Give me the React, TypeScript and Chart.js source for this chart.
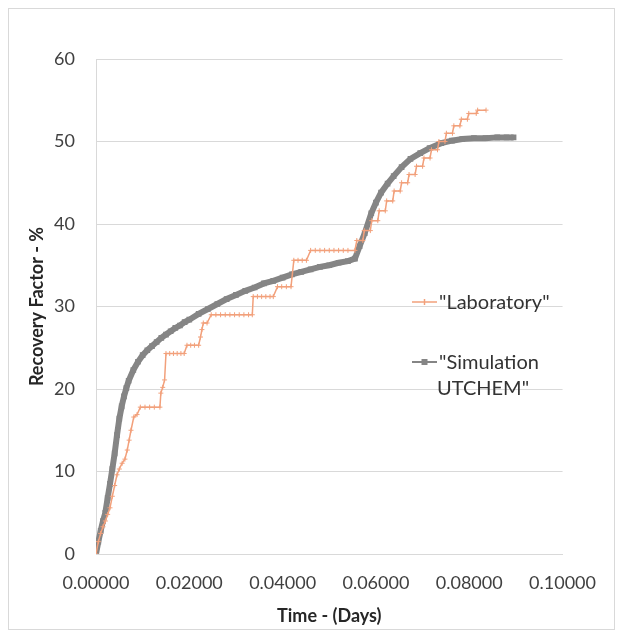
import React, { useEffect, useRef } from "react";
import { Chart, registerables } from "chart.js";

Chart.register(...registerables);

// ---- Data ----
const seriesNames = ['"Laboratory"', '"Simulation UTCHEM"'];
const legendLines = [['"Laboratory"'], ['"Simulation', 'UTCHEM"']];

const labTime = [
  0, 0.0005, 0.001, 0.0015, 0.002, 0.0025, 0.003, 0.0035, 0.004, 0.0045, 0.005,
  0.0056, 0.0062, 0.0067, 0.0071, 0.0075, 0.0081, 0.0088, 0.0095,
  0.0105, 0.0115, 0.0125, 0.0137,
  0.0139, 0.0143, 0.0147, 0.015,
  0.0158, 0.0166, 0.0174, 0.0182, 0.0189,
  0.0195, 0.0203, 0.0211, 0.022,
  0.0224, 0.0227, 0.023, 0.0238,
  0.0247, 0.0257, 0.0267, 0.0277, 0.0287, 0.0297, 0.0307, 0.0317, 0.0327, 0.0335,
  0.0337, 0.0346, 0.0355, 0.0364, 0.0373, 0.038,
  0.0389, 0.0398, 0.0408, 0.0418,
  0.0424, 0.0433, 0.0442, 0.0451,
  0.046, 0.047, 0.048, 0.049, 0.05, 0.051, 0.052, 0.053, 0.054, 0.0555,
  0.0559, 0.0572, 0.0575, 0.0588, 0.0591, 0.0604, 0.0607, 0.062, 0.0623, 0.0636,
  0.0639, 0.0652, 0.0655, 0.0668, 0.0671, 0.0684, 0.0687, 0.07, 0.0703, 0.0716,
  0.0719, 0.0732, 0.0735, 0.0748, 0.0751, 0.0764, 0.0767, 0.078, 0.0783, 0.0796,
  0.0799, 0.0815, 0.0818, 0.0836,
];
const labRecovery = [
  0, 1.5, 2.5, 3.3, 4.0, 4.8, 5.6, 7.0, 8.3, 9.6, 10.3,
  11, 11.5, 12.6, 13.8, 15, 16.6, 16.9, 17.8,
  17.8, 17.8, 17.8, 17.8,
  19.5, 20.2, 21.1, 24.3,
  24.3, 24.3, 24.3, 24.3, 24.3,
  25.3, 25.3, 25.3, 25.3,
  26.3, 27.2, 28, 28,
  29, 29, 29, 29, 29, 29, 29, 29, 29, 29,
  31.2, 31.2, 31.2, 31.2, 31.2, 31.2,
  32.4, 32.4, 32.4, 32.4,
  35.6, 35.6, 35.6, 35.6,
  36.8, 36.8, 36.8, 36.8, 36.8, 36.8, 36.8, 36.8, 36.8, 36.8,
  38, 38, 39.2, 39.2, 40.4, 40.4, 41.6, 41.6, 42.8, 42.8,
  44, 44, 45, 45, 46, 46, 47, 47, 48, 48,
  49, 49, 50, 50, 51, 51, 51.9, 51.9, 52.7, 52.7,
  53.4, 53.4, 53.8, 53.8,
];

const simTime = [
  0, 0.0005, 0.001, 0.0015, 0.002, 0.0025, 0.003, 0.0035, 0.004, 0.0045, 0.005,
  0.0055, 0.006, 0.0065, 0.007,
  0.008, 0.009, 0.010, 0.011, 0.012, 0.013, 0.014, 0.015, 0.016, 0.017, 0.018, 0.019, 0.020,
  0.022, 0.024, 0.026, 0.028, 0.030, 0.032, 0.034, 0.036, 0.038, 0.040, 0.042, 0.044,
  0.046, 0.048, 0.050, 0.052, 0.054,
  0.0555, 0.0565, 0.0576, 0.059, 0.06, 0.0611, 0.0625, 0.0638, 0.0655, 0.0674,
  0.0695, 0.0715, 0.074, 0.0763, 0.0785, 0.081, 0.0835, 0.086, 0.088, 0.0895,
];
const simRecovery = [
  0, 1.5, 2.8, 4, 5, 6.8, 8.5, 10.3, 12.2, 14.4, 16.4,
  17.9, 19.1, 20.1, 21,
  22.3, 23.3, 24.1, 24.7, 25.2, 25.7, 26.2, 26.6, 27, 27.4, 27.7, 28.1, 28.4,
  29.1, 29.7, 30.3, 30.9, 31.4, 31.9, 32.3, 32.8, 33.1, 33.5, 33.9, 34.2,
  34.5, 34.8, 35, 35.3, 35.5,
  35.8, 37.3, 38.9, 41.3, 42.6, 43.8, 44.9, 45.8, 46.9, 47.9,
  48.6, 49.2, 49.8, 50.1, 50.3, 50.4, 50.4, 50.5, 50.5, 50.5,
];

const xTickValues = [0, 0.02, 0.04, 0.06, 0.08, 0.1];
const yTickValues = [0, 10, 20, 30, 40, 50, 60];

const labColor = "#F2A07B";
const simColor = "#858585";
const FONT = "Lato, 'Open Sans', sans-serif";

const insideLegend = {
  id: "insideLegend",
  afterDraw(chart: any) {
    const ctx = chart.ctx as CanvasRenderingContext2D;
    ctx.save();
    const x0 = 403, x1 = 428, tx = 430;
    // Laboratory
    ctx.strokeStyle = labColor;
    ctx.lineWidth = 1.5;
    ctx.beginPath();
    ctx.moveTo(x0, 293);
    ctx.lineTo(x1, 293);
    ctx.stroke();
    ctx.beginPath();
    ctx.moveTo(415.5, 290);
    ctx.lineTo(415.5, 296);
    ctx.stroke();
    // Simulation
    ctx.strokeStyle = simColor;
    ctx.lineWidth = 2;
    ctx.beginPath();
    ctx.moveTo(x0, 353);
    ctx.lineTo(x1, 353);
    ctx.stroke();
    ctx.fillStyle = simColor;
    ctx.fillRect(412.5, 350, 6, 6);

    ctx.fillStyle = "#333333";
    ctx.font = `20px ${FONT}`;
    ctx.textBaseline = "alphabetic";
    ctx.textAlign = "left";
    ctx.fillText(legendLines[0][0], tx, 300);
    ctx.fillText(legendLines[1][0], tx, 360);
    ctx.fillText(legendLines[1][1], tx - 2, 386);
    ctx.restore();
  },
};

export default function App() {
  const ref = useRef<HTMLCanvasElement>(null);

  useEffect(() => {
    if (!ref.current) return;
    const labPts = labTime.map((t, i) => ({ x: t, y: labRecovery[i] }));
    const simPts = simTime.map((t, i) => ({ x: t, y: simRecovery[i] }));
    const chart = new Chart(ref.current, {
      type: "scatter",
      data: {
        datasets: [
          {
            label: seriesNames[0],
            data: labPts,
            showLine: true,
            borderColor: labColor,
            backgroundColor: labColor,
            borderWidth: 1.5,
            pointStyle: "cross",
            pointRadius: 2.5,
            pointBorderWidth: 1,
            pointBorderColor: labColor,
          },
          {
            label: seriesNames[1],
            data: simPts,
            showLine: true,
            borderColor: simColor,
            backgroundColor: simColor,
            borderWidth: 6,
            pointStyle: "rect",
            pointRadius: 4,
            pointBorderWidth: 0,
            pointBackgroundColor: simColor,
          },
        ],
      },
      options: {
        responsive: false,
        animation: false,
        layout: { padding: { left: 17, top: 50, right: 37, bottom: 2 } },
        plugins: { legend: { display: false }, tooltip: { enabled: false } },
        scales: {
          x: {
            type: "linear",
            min: 0,
            max: 0.1,
            afterBuildTicks: (s: any) => {
              s.ticks = xTickValues.map((v) => ({ value: v }));
            },
            afterFit: (s: any) => {
              s.height = 73;
            },
            grid: { display: false, drawTicks: false },
            border: { display: true, color: "#d9d9d9", width: 1 },
            ticks: {
              padding: 18,
              color: "#404040",
              font: { family: FONT, size: 18 },
              maxRotation: 0,
              callback: (v: any) => Number(v).toFixed(5),
            },
            title: {
              display: true,
              text: "Time - (Days)",
              color: "#262626",
              font: { family: FONT, size: 18, weight: "bold" },
              padding: { top: 0, bottom: 0 },
            },
          },
          y: {
            type: "linear",
            min: 0,
            max: 60,
            afterBuildTicks: (s: any) => {
              s.ticks = yTickValues.map((v) => ({ value: v }));
            },
            afterFit: (s: any) => {
              s.width = 70;
            },
            grid: { color: "#d9d9d9", drawTicks: false, lineWidth: 1 },
            border: { display: true, color: "#d9d9d9", width: 1 },
            ticks: {
              padding: 21,
              color: "#404040",
              font: { family: FONT, size: 18 },
            },
            title: {
              display: true,
              text: "Recovery Factor - %",
              color: "#262626",
              font: { family: FONT, size: 18, weight: "bold" },
              padding: { top: 0, bottom: 0 },
            },
          },
        },
      },
      plugins: [insideLegend],
    });
    return () => chart.destroy();
  }, []);

  return (
    <div
      style={{
        width: 605,
        height: 620,
        border: "1px solid #d9d9d9",
        background: "#fff",
      }}
    >
      <canvas ref={ref} width={605} height={620} style={{ display: "block" }} />
    </div>
  );
}
